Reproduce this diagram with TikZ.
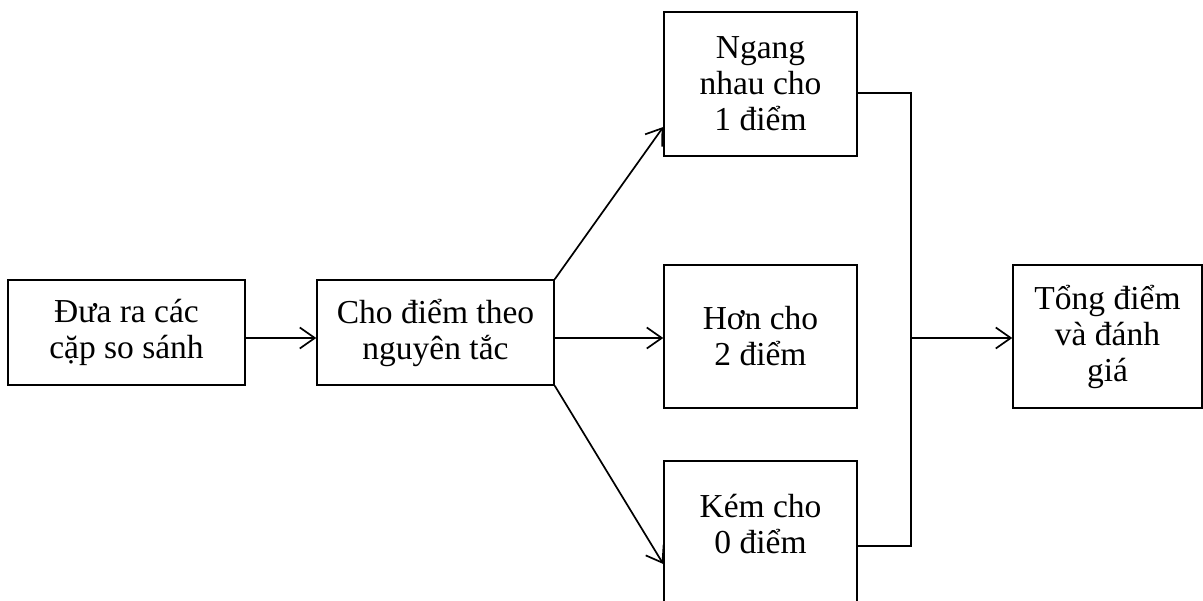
\documentclass[tikz,border=0pt]{standalone}
\usepackage{fontspec}
\setmainfont{Liberation Serif}
\usetikzlibrary{arrows.meta}
\begin{document}
\begin{tikzpicture}[x=1pt,y=1pt,
  box/.style={draw=black,line width=1.5pt,minimum width=#1,inner sep=0pt,align=center,
    font=\fontsize{33.5}{36}\selectfont},
  box/.default=193pt,
  conn/.style={line width=1.7pt,draw=black},
  arr/.style={conn,-{Straight Barb[length=15pt,width=21pt,line width=1.7pt]}}]
\useasboundingbox (0,0) rectangle (1203,-601);
\node[box=237pt,minimum height=105pt] (b1) at (126.5,-332.5) {Đưa ra các\\cặp so sánh};
\node[box=237pt,minimum height=105pt] (b2) at (435.5,-332.5) {Cho điểm theo\\nguyên tắc};
\node[box,minimum height=144pt] (b3) at (760.5,-84) {Ngang\\nhau cho\\1 điểm};
\node[box,minimum height=143pt] (b4) at (760.5,-336.5) {Hơn cho\\2 điểm};
\node[box,minimum height=144pt] (b5) at (760.5,-533) {};
\node[align=center,inner sep=0pt,font=\fontsize{33.5}{36}\selectfont] (b5t) at (760.5,-524) {Kém cho\\0 điểm};
\node[box=189pt,minimum height=143pt] (b6) at (1107.5,-336.5) {Tổng điểm\\và đánh\\giá};
\coordinate (jt) at (911,-93);
\coordinate (jb) at (911,-546);
\coordinate (jm) at (911,-338);
\draw[arr] ([yshift=-5.5pt]b1.east) -- ([yshift=-5.5pt]b2.west);
\draw[arr] ([yshift=-5.5pt]b2.east) -- ([yshift=-5.5pt]b2.east -| b4.west);
\draw[arr] (b2.north east) -- ([yshift=-43pt]b3.west);
\draw[arr] (b2.south east) -- ([yshift=-31pt]b5.west);
\draw[conn,line join=miter] ([yshift=-9pt]b3.east) -- (jt) -- (jb) -- ([yshift=-13pt]b5.east);
\draw[arr] (jm) -- (jm -| b6.west);
\end{tikzpicture}
\end{document}
